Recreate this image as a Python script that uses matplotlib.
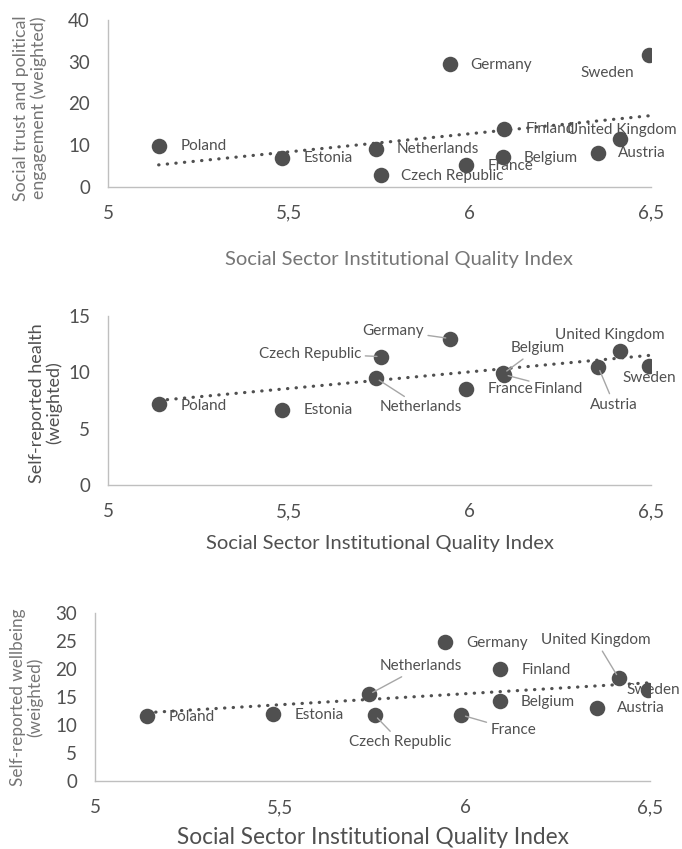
import numpy as np
import matplotlib
matplotlib.use('Agg')
import matplotlib.pyplot as plt

plt.rcParams['font.family'] = ['Lato', 'DejaVu Sans']

countries = ['Poland', 'Estonia', 'Netherlands', 'Czech Republic', 'Germany', 'France',
             'Finland', 'Belgium', 'Austria', 'United Kingdom', 'Sweden']
sqi = [5.14, 5.48, 5.74, 5.755, 5.945, 5.99, 6.095, 6.093, 6.355, 6.415, 6.495]

trust = [9.8, 7.0, 9.1, 2.8, 29.4, 5.2, 13.8, 7.2, 8.2, 11.4, 31.6]
health = [7.2, 6.7, 9.5, 11.4, 13.0, 8.5, 9.8, 9.9, 10.5, 11.9, 10.6]
wellbeing = [11.7, 11.9, 15.5, 11.8, 24.9, 11.8, 20.1, 14.3, 13.1, 18.4, 16.3]

x_ticks = [5, 5.5, 6, 6.5]
x_ticklabels = ['5', '5,5', '6', '6,5']
xlabel = 'Social Sector Institutional Quality Index'

DARK = '#505050'
GREY = '#767676'
AXIS = '#bfbfbf'
LEAD = '#a6a6a6'

# label placement per country: (dx px, dy px, ha, leader?)
lab1 = {'Poland': (22, 0, 'left', False), 'Estonia': (22, 0, 'left', False),
        'Netherlands': (21, 0, 'left', False), 'Czech Republic': (20, -1, 'left', False),
        'Germany': (20, -1, 'left', False), 'France': (21, -1, 'left', False),
        'Finland': (21, 0, 'left', False), 'Belgium': (20, -1, 'left', False),
        'Austria': (20, 0, 'left', False), 'United Kingdom': (2, 9, 'center', False),
        'Sweden': (-42, -18, 'center', False)}
lab2 = {'Poland': (22, -2, 'left', False), 'Estonia': (22, 0, 'left', False),
        'Netherlands': (45, -29, 'center', True), 'Czech Republic': (-20, 3, 'right', True),
        'Germany': (-26, 8, 'right', True), 'France': (21, 0, 'left', False),
        'Finland': (29, -14, 'left', True), 'Belgium': (34, 25, 'center', True),
        'Austria': (16, -38, 'center', True), 'United Kingdom': (-10, 16, 'center', False),
        'Sweden': (0, -12, 'center', False)}
lab3 = {'Poland': (22, -1, 'left', False), 'Estonia': (22, -1, 'left', False),
        'Netherlands': (52, 28, 'center', True), 'Czech Republic': (26, -27, 'center', True),
        'Germany': (21, -1, 'left', False), 'France': (52, -15, 'center', True),
        'Finland': (21, -1, 'left', False), 'Belgium': (21, -1, 'left', False),
        'Austria': (20, 0, 'left', False), 'United Kingdom': (-23, 38, 'center', True),
        'Sweden': (-22, 0, 'left', False)}

fig = plt.figure(figsize=(6.82, 8.49), dpi=100)


def panel(rect, yvals, ymax, ystep, labels, ylab, ylab_xy, ylab_size, ylab_color,
          xlab_xy, xlab_size, xlab_color):
    ax = fig.add_axes(rect)
    ax.scatter(sqi, yvals, s=125, color=DARK, zorder=3, linewidths=0)
    m, b = np.polyfit(sqi, yvals, 1)
    xt = np.array([min(sqi), max(sqi)])
    ax.plot(xt, m * xt + b, color=DARK, lw=2.3, linestyle=(0, (0.1, 2.6)),
            dash_capstyle='round', zorder=2)
    for c, xv, yv in zip(countries, sqi, yvals):
        dx, dy, ha, lead = labels[c]
        ap = None
        if lead:
            ap = dict(arrowstyle='-', color=LEAD, lw=1.0, shrinkA=1, shrinkB=3)
        ax.annotate(c, (xv, yv), xytext=(dx, dy), textcoords='offset pixels',
                    ha=ha, va='center', fontsize=11, color=DARK,
                    arrowprops=ap, zorder=4)
    ax.set_xlim(5, 6.5)
    ax.set_ylim(0, ymax)
    ax.set_xticks(x_ticks)
    ax.set_xticklabels(x_ticklabels)
    ax.set_yticks(np.arange(0, ymax + 1, ystep))
    ax.tick_params(length=0, labelsize=13.5, colors=DARK, pad=13)
    for s in ['top', 'right']:
        ax.spines[s].set_visible(False)
    for s in ['left', 'bottom']:
        ax.spines[s].set_color(AXIS)
        ax.spines[s].set_linewidth(1.0)
    ax.patch.set_alpha(0)
    fig.text(ylab_xy[0] / 682, 1 - ylab_xy[1] / 849, ylab, rotation=90,
             ha='center', va='center', fontsize=ylab_size, color=ylab_color,
             multialignment='center', linespacing=1.05)
    fig.text(xlab_xy[0] / 682, 1 - xlab_xy[1] / 849, xlabel, ha='center',
             va='center', fontsize=xlab_size, color=xlab_color)
    return ax


panel([0.1584, 0.7801, 0.7956, 0.1963], trust, 40, 10, lab1,
      'Social trust and political\nengagement (weighted)', (30, 108), 12.8, GREY,
      (399, 260), 14.5, GREY)
panel([0.1584, 0.4287, 0.7956, 0.1991], health, 15, 5, lab2,
      'Self-reported health\n(weighted)', (46, 403), 13, DARK,
      (380, 543), 14.5, DARK)
panel([0.1397, 0.0801, 0.8136, 0.1975], wellbeing, 30, 5, lab3,
      'Self-reported wellbeing\n(weighted)', (27, 697), 12.3, GREY,
      (373, 838), 16.3, DARK)

plt.savefig('out.png', dpi=100)
